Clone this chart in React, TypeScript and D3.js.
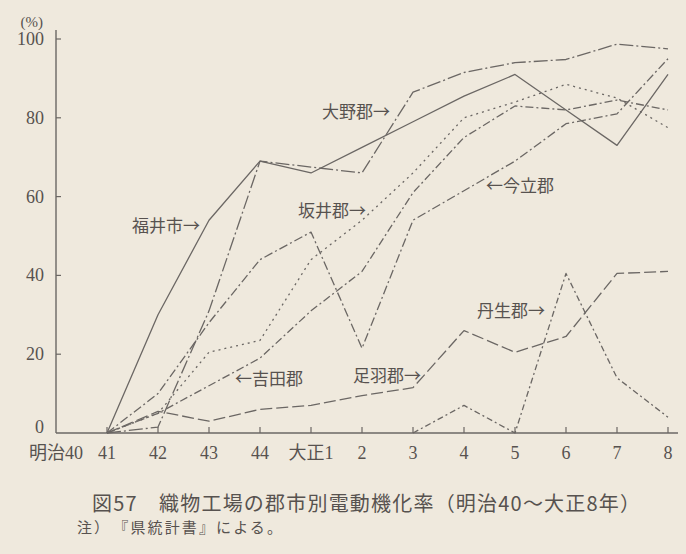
import React from "react";
import * as d3 from "d3";

const categories = ["明治40", "41", "42", "43", "44", "大正1", "2", "3", "4", "5", "6", "7", "8"];
const yTicks = [0, 20, 40, 60, 80, 100];

const fukuiShi = [null, 0, 30, 54, 69, 66, 72.5, 79, 85.5, 91, 82, 73, 91];
const onoGun = [null, 0, 1.5, 31, 69, 67.5, 66, 86.5, 91.5, 94, 94.8, 98.7, 97.5];
const sakaiGun = [null, 0, 5, 20.5, 23.5, 44, 54, 66, 80, 84, 88.5, 85, 77.5];
const imadateGun = [null, 0, 10, 28, 44, 51, 21.5, 54, 61.5, 69, 78.5, 81, 95];
const yoshidaGun = [null, 0, 5, 12, 19, 31, 41, 61, 75, 83, 82, 84.5, 82];
const asuwaGun = [null, 0, 5.5, 3, 6, 7, 9.5, 11.5, 26, 20.5, 24.5, 40.5, 41];
const nyuGun = [null, null, null, null, null, null, null, 0, 7, 0, 40.5, 14, 4];

const seriesList = [
  { name: "福井市", values: fukuiShi, dash: "none" },
  { name: "大野郡", values: onoGun, dash: "14 3 2 3" },
  { name: "坂井郡", values: sakaiGun, dash: "2 4" },
  { name: "今立郡", values: imadateGun, dash: "9 3 2 3" },
  { name: "吉田郡", values: yoshidaGun, dash: "8 3 2 3" },
  { name: "足羽郡", values: asuwaGun, dash: "12 4" },
  { name: "丹生郡", values: nyuGun, dash: "6 3 2 3" },
];

const labels = [
  { text: "福井市→", x: 132, y: 225 },
  { text: "大野郡→", x: 322, y: 111 },
  { text: "坂井郡→", x: 298, y: 210 },
  { text: "←今立郡", x: 486, y: 185 },
  { text: "←吉田郡", x: 235, y: 378 },
  { text: "足羽郡→", x: 353, y: 375 },
  { text: "丹生郡→", x: 477, y: 310 },
];

const W = 686;
const H = 554;
const LINE = "#6b6764";
const TEXT = "#57524f";
const BG = "#efe9dd";

export default function App() {
  const x = d3.scalePoint<string>().domain(categories).range([56, 668]);
  const y = d3.scaleLinear().domain([0, 100]).range([433, 39]);
  const axisX0 = 56;

  const line = d3
    .line<number | null>()
    .defined((d) => d !== null)
    .x((_, i) => x(categories[i]) as number)
    .y((d) => y(d as number));

  const serif = "'Liberation Serif', 'Noto Sans CJK JP', serif";
  const cjk = "'Noto Sans CJK JP', sans-serif";

  return (
    <svg
      width={W}
      height={H}
      style={{ position: "absolute", left: 0, top: 0, background: BG }}
    >
      <rect x={0} y={0} width={W} height={H} fill={BG} />
      {/* axes */}
      <line x1={axisX0} y1={30} x2={axisX0} y2={y(0)} stroke={LINE} strokeWidth={1.4} />
      <line x1={axisX0} y1={y(0)} x2={678} y2={y(0)} stroke={LINE} strokeWidth={1.4} />
      {yTicks.map((t) => (
        <g key={"yt" + t}>
          {t > 0 && (
            <line x1={axisX0} x2={axisX0 + 5} y1={y(t)} y2={y(t)} stroke={LINE} strokeWidth={1.2} />
          )}
          <text
            x={44}
            y={y(t) + (t === 0 ? 0 : 6)}
            textAnchor="end"
            fontFamily={serif}
            fontSize={18}
            fill={TEXT}
          >
            {t}
          </text>
        </g>
      ))}
      <text x={43} y={27} textAnchor="end" fontFamily={serif} fontSize={15} fill={TEXT}>
        (%)
      </text>
      {categories.map((c, i) => (
        <g key={"xt" + c}>
          {i > 0 && (
            <line
              x1={x(c) as number}
              x2={x(c) as number}
              y1={y(0)}
              y2={y(0) - 6}
              stroke={LINE}
              strokeWidth={1.2}
            />
          )}
          <text
            x={x(c) as number}
            y={459}
            textAnchor="middle"
            fontFamily={serif}
            fontSize={18}
            fill={TEXT}
          >
            {c}
          </text>
        </g>
      ))}
      {/* series */}
      {seriesList.map((s) => (
        <path
          key={s.name}
          d={line(s.values) || ""}
          fill="none"
          stroke={LINE}
          strokeWidth={1.3}
          strokeDasharray={s.dash}
          strokeLinejoin="round"
        />
      ))}
      {labels.map((l) => (
        <text key={l.text} x={l.x} y={l.y + 6.5} fontFamily={cjk} fontSize={17} fill={TEXT}>
          {l.text}
        </text>
      ))}
      {/* title & note */}
      <text
        x={92}
        y={511}
        fontFamily={cjk}
        fontSize={20}
        fill={TEXT}
        textLength={548}
        lengthAdjust="spacing"
      >
        図57　織物工場の郡市別電動機化率（明治40～大正8年）
      </text>
      <text
        x={77}
        y={533}
        fontFamily={cjk}
        fontSize={15}
        fill={TEXT}
        textLength={205}
        lengthAdjust="spacing"
      >
        注）　『県統計書』による。
      </text>
    </svg>
  );
}
